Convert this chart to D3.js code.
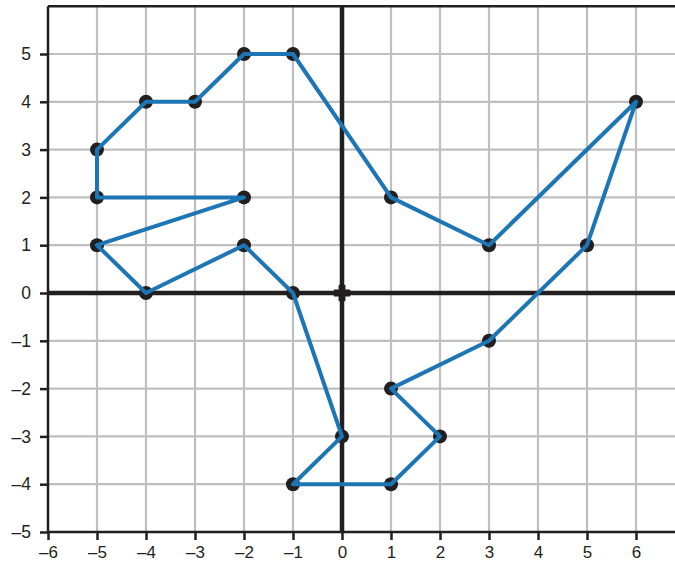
<!DOCTYPE html>
<html><head><meta charset="utf-8">
<script src="https://cdn.jsdelivr.net/npm/d3@7"></script>
<style>body{margin:0;background:#fff}svg{display:block}text{font-family:"Liberation Sans",Arial,sans-serif}</style>
</head><body>
<script>
const xs = [-1, 1, 3, 6, 5, 3, 1, 2, 1, -1, 0, -1, -2, -4, -5, -2, -5, -5, -4, -3, -2];
const ys = [5, 2, 1, 4, 1, -1, -2, -3, -4, -4, -3, 0, 1, 0, 1, 2, 2, 3, 4, 4, 5];
const xTicks = [-6,-5,-4,-3,-2,-1,0,1,2,3,4,5,6];
const yTicks = [-5,-4,-3,-2,-1,0,1,2,3,4,5];
const origin = [0, 0];

const W = 675, H = 566;
const svg = d3.select("body").append("svg").attr("width", W).attr("height", H);
const x = d3.scaleLinear().domain([-6, 6]).range([48, 636]);
const y = d3.scaleLinear().domain([-5, 5]).range([532, 54]);
const yMax = 6;
const fmt = d => d < 0 ? "\u2013" + Math.abs(d) : String(d);

// grid
const grid = svg.append("g").attr("stroke", "#bfbfc2").attr("stroke-width", 2.2);
xTicks.filter(d => d !== 0 && d !== -6).forEach(d => grid.append("line")
  .attr("x1", x(d)).attr("x2", x(d)).attr("y1", y(yMax)).attr("y2", y(-5)));
yTicks.filter(d => d !== 0 && d !== -5).forEach(d => grid.append("line")
  .attr("x1", x(-6)).attr("x2", W).attr("y1", y(d)).attr("y2", y(d)));

// top border
svg.append("line").attr("x1", x(-6)).attr("x2", W).attr("y1", y(yMax)).attr("y2", y(yMax))
  .attr("stroke", "#231f20").attr("stroke-width", 2.5);

// axes
const xAxis = svg.append("g").attr("transform", `translate(0,${y(-5)})`)
  .call(d3.axisBottom(x).tickValues(xTicks).tickFormat(fmt).tickSize(8).tickPadding(6));
xAxis.select(".domain").remove();
xAxis.append("line").attr("x1", x(-6)).attr("x2", W).attr("stroke", "#231f20").attr("stroke-width", 2.5);
const yAxis = svg.append("g").attr("transform", `translate(${x(-6)},0)`)
  .call(d3.axisLeft(y).tickValues(yTicks).tickFormat(fmt).tickSize(8).tickPadding(9));
yAxis.select(".domain").remove();
yAxis.append("line").attr("y1", y(yMax)).attr("y2", y(-5)).attr("stroke", "#231f20").attr("stroke-width", 2.5);
svg.selectAll(".tick line").attr("stroke", "#231f20").attr("stroke-width", 2.5);
svg.selectAll(".tick text").attr("fill", "#231f20").attr("font-size", 17.5)
  .attr("font-family", '"Liberation Sans",Arial,sans-serif');
xAxis.selectAll(".tick text").attr("font-size", 17);

// zero lines
svg.append("line").attr("x1", x(-6)).attr("x2", W).attr("y1", y(0)).attr("y2", y(0))
  .attr("stroke", "#231f20").attr("stroke-width", 4.5);
svg.append("line").attr("x1", x(0)).attr("x2", x(0)).attr("y1", y(yMax)).attr("y2", y(-5))
  .attr("stroke", "#231f20").attr("stroke-width", 4.5);

// points
const pts = xs.map((d, i) => [d, ys[i]]);
svg.append("g").selectAll("circle").data(pts).join("circle")
  .attr("cx", d => x(d[0])).attr("cy", d => y(d[1])).attr("r", 7).attr("fill", "#231f20");
svg.append("path").attr("transform", `translate(${x(origin[0])},${y(origin[1])})`)
  .attr("d", d3.symbol(d3.symbolCross, 120)()).attr("fill", "#231f20")
  .attr("stroke", "#231f20").attr("stroke-width", 2).attr("stroke-linejoin", "round");

// polygon
svg.append("path").datum(pts)
  .attr("d", d3.line().x(d => x(d[0])).y(d => y(d[1])).curve(d3.curveLinearClosed))
  .attr("fill", "none").attr("stroke", "#1c75b4").attr("stroke-width", 4).attr("stroke-linejoin", "round");
</script>
</body></html>
